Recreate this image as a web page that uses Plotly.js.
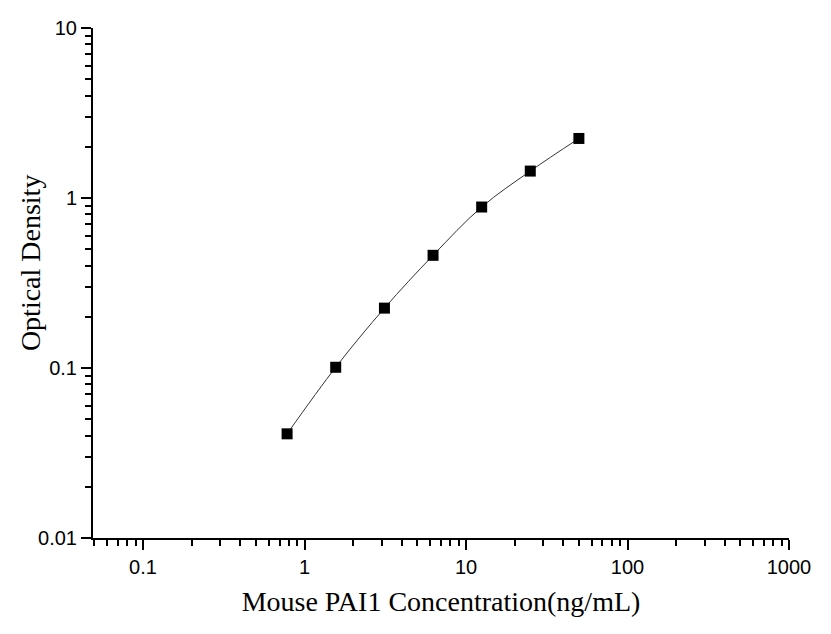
<!DOCTYPE html>
<html>
<head>
<meta charset="utf-8">
<script src="https://cdn.plot.ly/plotly-3.0.1.min.js"></script>
<style>
    html, body { margin: 0; padding: 0; background: #fff; }
    #chart { width: 831px; height: 634px; }
</style>
</head>
<body>
<div id="chart"></div>
<script>
'use strict';

// Standard curve readings
let concentration = [0.78, 1.56, 3.125, 6.25, 12.5, 25, 50];
let opticalDensity = [0.041, 0.101, 0.225, 0.46, 0.885, 1.44, 2.24];

let xTickVals = [0.1, 1, 10, 100, 1000];
let xTickText = ['0.1', '1', '10', '100', '1000'];
let yTickVals = [0.01, 0.1, 1, 10];
let yTickText = ['0.01', '0.1', '1', '10'];

let serif = 'Liberation Serif, Times New Roman, serif';

function makeAxis(range, vals, text) {
    return {
        type: 'log',
        range: range,
        tickmode: 'array',
        tickvals: vals,
        ticktext: text,
        ticks: 'outside',
        ticklen: 10,
        tickwidth: 2,
        tickcolor: '#000',
        tickfont: { family: 'Liberation Sans, Arial, sans-serif', size: 20, color: '#000' },
        minor: {
            ticks: 'outside',
            ticklen: 6,
            tickwidth: 2,
            tickcolor: '#000',
            dtick: 'D1',
            showgrid: false
        },
        showline: true,
        linewidth: 2,
        linecolor: '#000',
        showgrid: false,
        zeroline: false,
        mirror: false
    };
}

let trace = {
    x: concentration,
    y: opticalDensity,
    type: 'scatter',
    mode: 'lines+markers',
    line: { color: '#333', width: 1, shape: 'spline' },
    marker: { symbol: 'square', size: 11, color: '#000' },
    showlegend: false
};

let layout = {
    width: 831,
    height: 634,
    margin: { l: 93, r: 42, t: 28, b: 96 },
    paper_bgcolor: '#fff',
    plot_bgcolor: '#fff',
    xaxis: makeAxis([Math.log10(0.049), 3], xTickVals, xTickText),
    yaxis: makeAxis([-2, 1], yTickVals, yTickText),
    annotations: [
        {
            // y title sits a bit above the plot centre in the original
            text: 'Optical Density',
            xref: 'paper', yref: 'paper',
            x: -0.0905, y: 0.539,
            xanchor: 'center', yanchor: 'middle',
            textangle: -90,
            showarrow: false,
            font: { family: serif, size: 28, color: '#000' }
        }
    ]
};
layout.xaxis.title = {
    text: 'Mouse PAI1 Concentration(ng/mL)',
    font: { family: serif, size: 28, color: '#000' },
    standoff: 14
};

Plotly.newPlot('chart', [trace], layout, { displayModeBar: false, staticPlot: true });
</script>
</body>
</html>
